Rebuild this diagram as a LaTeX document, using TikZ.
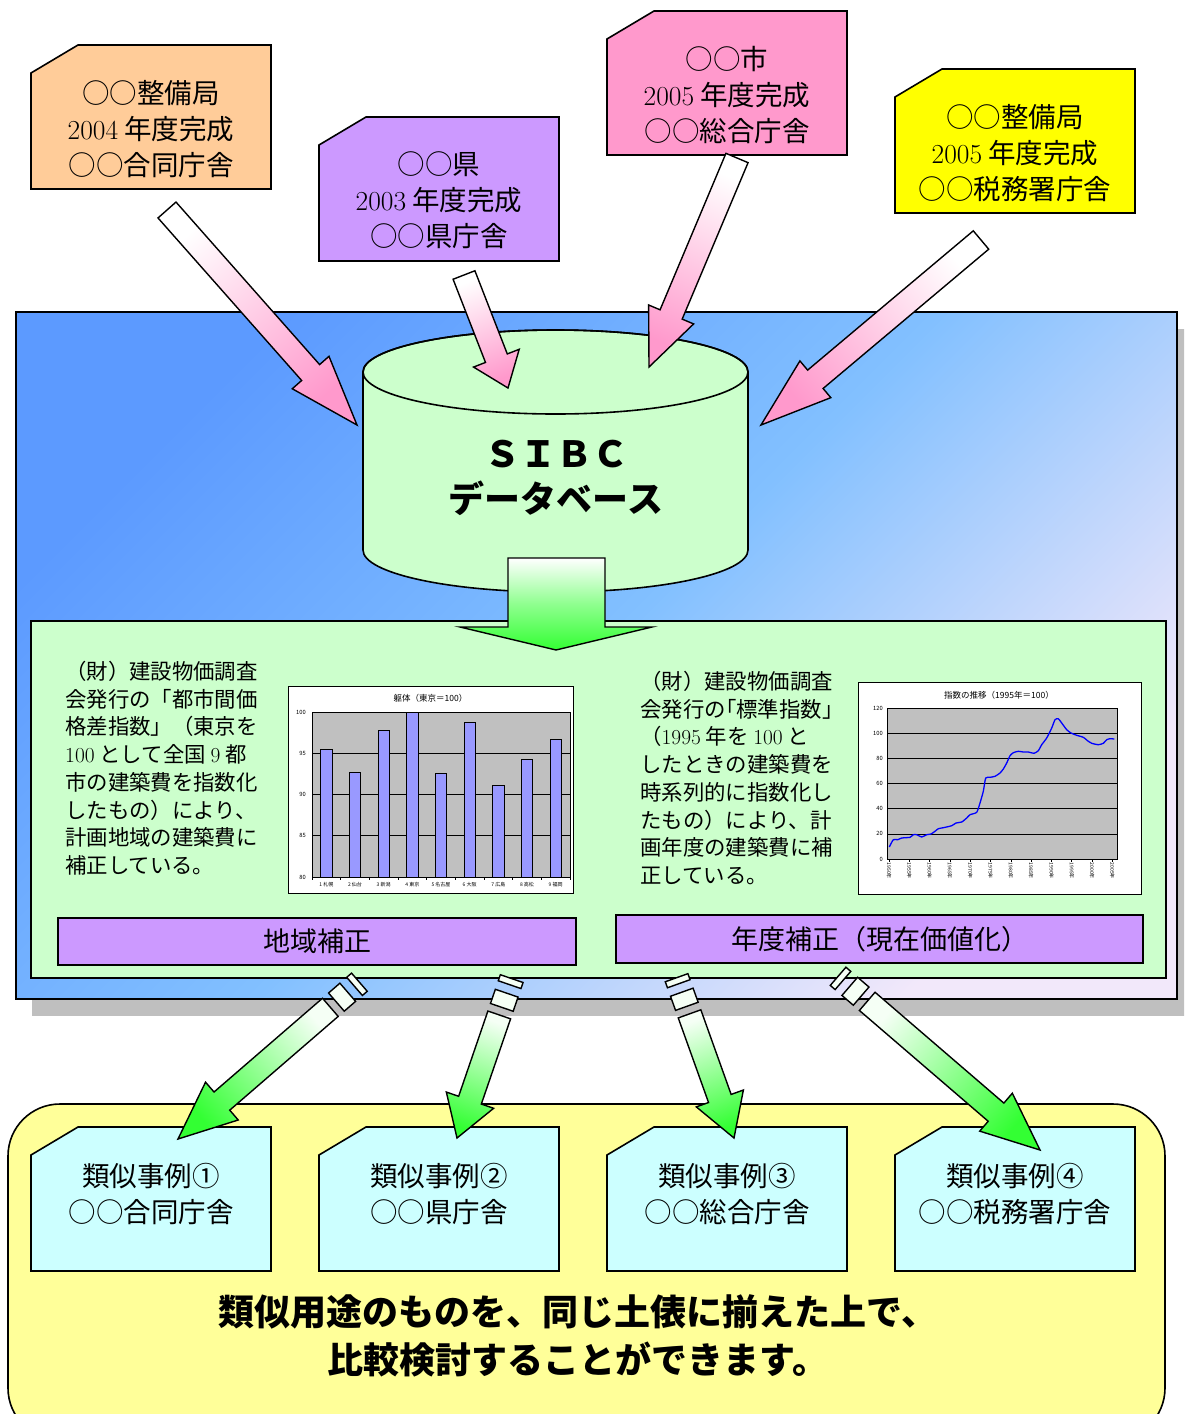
\documentclass[tikz,border=0pt]{standalone}
\usepackage{fontspec}
\newfontfamily\cjk{Noto Sans CJK JP}
\usetikzlibrary{calc}
\definecolor{peach}{RGB}{255,204,153}
\definecolor{lilac}{RGB}{204,153,255}
\definecolor{pinkbox}{RGB}{255,153,204}
\definecolor{yel}{RGB}{255,255,0}
\definecolor{mint}{RGB}{204,255,204}
\definecolor{cyanbox}{RGB}{204,255,255}
\definecolor{lightyel}{RGB}{255,255,153}
\definecolor{bluetl}{RGB}{92,154,255}
\definecolor{bluemid}{RGB}{130,192,255}
\definecolor{lav}{RGB}{242,232,250}
\definecolor{shadowgray}{RGB}{191,191,191}
\definecolor{arrpink}{RGB}{255,153,204}
\definecolor{arrgreen}{RGB}{51,255,51}
\definecolor{stripefill}{RGB}{245,255,245}
\definecolor{chartgray}{RGB}{192,192,192}
\definecolor{barblue}{RGB}{153,153,255}
\definecolor{lineblue}{RGB}{0,0,255}
\newcommand\lm[1]{{\rmfamily #1}}
\newcommand\getdir[2]{\path let \p1=($(#2)-(#1)$) in \pgfextra{\pgfmathsetmacro\batmpa{atan2(\y1,\x1)}\xdef\baang{\batmpa}\pgfmathsetmacro\batmpb{veclen(\x1,\y1)}\xdef\balen{\batmpb}};}
\newcommand\lc[4]{\coordinate (#1) at ($(#2)+(\baang:#3)+(\baang+90:#4)$);}
\newcommand\blkarrow[6]{%
  \getdir{#1}{#2}%
  \pgfmathsetmacro\bashade{\baang+90}%
  \pgfmathsetlengthmacro\babase{\balen-#5}%
  \lc{q1}{#1}{0pt}{#3}\lc{q2}{#1}{\babase}{#3}\lc{q3}{#1}{\babase}{#4}%
  \lc{q4}{#1}{\babase}{-#4}\lc{q5}{#1}{\babase}{-#3}\lc{q6}{#1}{0pt}{-#3}%
  \shadedraw[arrowline, top color=white, bottom color=#6, shading angle=\bashade]
    (q1) -- (q2) -- (q3) -- (#2) -- (q4) -- (q5) -- (q6) -- cycle;}
\newcommand\striparrow[4]{%
  \getdir{#1}{#2}%
  \pgfmathsetmacro\bashade{\baang+90}%
  \pgfmathsetlengthmacro\babase{\balen-#4}%
  \lc{r1}{#1}{0pt}{12pt}\lc{r2}{#1}{6.4pt}{12pt}\lc{r3}{#1}{6.4pt}{-12pt}\lc{r4}{#1}{0pt}{-12pt}%
  \draw[arrowline, fill=stripefill] (r1) -- (r2) -- (r3) -- (r4) -- cycle;
  \lc{r1}{#1}{15.4pt}{12pt}\lc{r2}{#1}{30.4pt}{12pt}\lc{r3}{#1}{30.4pt}{-12pt}\lc{r4}{#1}{15.4pt}{-12pt}%
  \draw[arrowline, fill=stripefill] (r1) -- (r2) -- (r3) -- (r4) -- cycle;
  \lc{q1}{#1}{38.4pt}{12pt}\lc{q2}{#1}{\babase}{12pt}\lc{q3}{#1}{\babase}{#3}%
  \lc{q4}{#1}{\babase}{-#3}\lc{q5}{#1}{\babase}{-12pt}\lc{q6}{#1}{38.4pt}{-12pt}%
  \shadedraw[arrowline, top color=stripefill, bottom color=arrgreen, shading angle=\bashade]
    (q1) -- (q2) -- (q3) -- (#2) -- (q4) -- (q5) -- (q6) -- cycle;}
\newcommand\snipbox[6]{%
  \draw[boxline, fill=#4] (#2,#3+28) -- (#2+47,#3) -- (#2+240,#3) -- (#2+240,#3+144) -- (#2,#3+144) -- cycle;
  \node[boxtext] (#1) at (#2+120,#5) {#6};}
\begin{document}
\begin{tikzpicture}[x=1pt,y=-1pt,
  boxline/.style={draw, line width=1.6pt},
  arrowline/.style={draw, line width=1.4pt, line join=miter},
  boxtext/.style={font=\cjk\fontsize{27.5}{36}\selectfont, align=center, inner sep=0pt},
  bodytext/.style={font=\cjk\fontsize{21.4}{27.7}\selectfont, align=left, inner sep=0pt, anchor=north west},
  barlabel/.style={draw, line width=1.6pt, fill=lilac, inner sep=0pt, font=\cjk\fontsize{27}{30}\selectfont},
  charttitle/.style={font=\cjk\fontsize{8.5}{9}\selectfont, inner sep=0pt},
  ticklab/.style={font=\cjk\fontsize{5.8}{6}\selectfont, inner sep=0pt},
  xlab/.style={font=\cjk\fontsize{5}{5}\selectfont, inner sep=0pt},
  chartframe/.style={draw, fill=white, line width=0.9pt},
  gridl/.style={line width=0.6pt}]
\useasboundingbox (0,0) rectangle (1184,1414);
\clip (0,0) rectangle (1184,1414);
\fill[white] (0,0) rectangle (1184,1414);
% panel with shadow
\fill[shadowgray] (32,329) rectangle (1200,1016);
\shadedraw[top color=bluetl, bottom color=lav, middle color=bluemid, shading angle=45, line width=1.4pt] (16,312) rectangle (1177,999);
\draw[fill=mint, line width=1.6pt] (31,621) rectangle (1166,978);
% database cylinder
\draw[fill=mint, line width=1.6pt] (363,372) -- (363,550) arc[start angle=180, end angle=360, x radius=192.5pt, y radius=42pt] -- (748,372) arc[start angle=0, end angle=180, x radius=192.5pt, y radius=42pt] -- cycle;
\draw[line width=1.6pt] (555.5,372) ellipse [x radius=192.5pt, y radius=42pt];
\node[font=\cjk\bfseries\fontsize{36}{45}\selectfont, align=center, inner sep=0pt] (db) at (556,478) {ＳＩＢＣ\\データベース};
% source boxes
\snipbox{t1}{31}{45}{peach}{129}{○○整備局\\\lm{2004} 年度完成\\○○合同庁舎}
\snipbox{t2}{319}{117}{lilac}{200.5}{○○県\\\lm{2003} 年度完成\\○○県庁舎}
\snipbox{t3}{607}{11}{pinkbox}{95}{○○市\\\lm{2005} 年度完成\\○○総合庁舎}
\snipbox{t4}{895}{69}{yel}{153}{○○整備局\\\lm{2005} 年度完成\\○○税務署庁舎}
% pink arrows
\coordinate (p1s) at (167,210); \coordinate (p1e) at (357,425);
\coordinate (p2s) at (464,275); \coordinate (p2e) at (508,388);
\coordinate (p3s) at (737,158); \coordinate (p3e) at (649,367);
\coordinate (p4s) at (981,240); \coordinate (p4e) at (761,425);
\blkarrow{p1s}{p1e}{12pt}{24.5pt}{70}{arrpink}
\blkarrow{p2s}{p2e}{11.7pt}{24.5pt}{32}{arrpink}
\blkarrow{p3s}{p3e}{12pt}{24.4pt}{57}{arrpink}
\blkarrow{p4s}{p4e}{12pt}{24pt}{71}{arrpink}
% big down arrow
\shadedraw[arrowline, top color=white, bottom color=arrgreen, middle color=arrgreen!55!white] (508,558) -- (605,558) -- (605,627) -- (652,627) -- (556,650) -- (460,627) -- (508,627) -- cycle;
% left text
\node[bodytext] (ltxt) at (65,661) {（財）建設物価調査\\会発行の「都市間価\\格差指数」（東京を\\\lm{100} として全国 \lm{9} 都\\市の建築費を指数化\\したもの）により、\\計画地域の建築費に\\補正している。};
\node[bodytext] (rtxt) at (640,671) {（財）建設物価調査\\会発行の\kern-0.5em「標準指数」\\（\lm{1995} 年を \lm{100} と\\したときの建築費を\\時系列的に指数化し\\たもの）により、計\\画年度の建築費に補\\正している。};
% left chart
\draw[chartframe] (288,686) rectangle (573,893);
\node[charttitle] (lct) at (430.5,698) {躯体（東京＝100）};
\draw[fill=chartgray, line width=0.6pt] (312,712) rectangle (570,877);
\foreach \yy in {753.25,794.5,835.75} \draw[gridl] (312,\yy) -- (570,\yy);
\foreach \lab/\yy in {100/712,95/753.25,90/794.5,85/835.75,80/877} \node[ticklab, anchor=east] (lcy\lab) at (306,\yy) {\lab};
\foreach \v [count=\i from 0] in {95.5,92.7,97.8,100,92.6,98.7,91.1,94.3,96.7} {
  \pgfmathsetmacro\cx{312+28.667*(\i+0.5)}
  \pgfmathsetmacro\ty{877-(\v-80)*8.25}
  \draw[fill=barblue, line width=0.7pt] (\cx-5.75,877) rectangle (\cx+5.75,\ty);
}
\foreach \i in {0,...,9} \draw[line width=0.5pt] ({312+28.667*\i},877) -- ++(0,3);
\foreach \lab [count=\i from 0] in {1 札幌,2 仙台,3 新潟,4 東京,5 名古屋,6 大阪,7 広島,8 高松,9 福岡} \node[xlab] (lcx\i) at ({312+28.667*(\i+0.5)},885) {\lab};
% right chart
\draw[chartframe] (858,682) rectangle (1141,894);
\node[charttitle] (rct) at (999,695) {指数の推移（1995年＝100）};
\draw[fill=chartgray, line width=0.6pt] (887,708) rectangle (1117,859);
\foreach \k in {1,...,5} \draw[gridl] (887,{708+25.167*\k}) -- (1117,{708+25.167*\k});
\foreach \lab [count=\k from 0] in {120,100,80,60,40,20,0} \node[ticklab, anchor=east] (rcy\k) at (883,{708+25.167*\k}) {\lab};
\foreach \yr [count=\k from 0] in {1950,1955,...,2005} {
  \draw[line width=0.5pt] ({889+20.3*\k},859) -- ++(0,2.5);
  \node[xlab, rotate=-90, anchor=west] (rcx\k) at ({889+20.3*\k},862.5) {\yr 年};
}
\draw[lineblue, line width=1.3pt, line join=round] plot[smooth, tension=0.35] coordinates {(889.3,847) (893.3,839.7) (897.7,839.7) (901.7,838) (910,837.3) (913.3,834.7) (916.7,834.7) (921.7,837) (926.7,834.7) (931,834) (935,831.3) (938.3,828.7) (943.3,827.7) (951.7,825.7) (956,823) (961.7,822) (966.7,818) (970,814.7) (976.7,812.3) (980,803) (983.3,791.3) (985.7,778) (990,777.3) (995,776.3) (1000,773) (1003.3,769) (1006.7,763) (1010,755.7) (1013.3,752.7) (1018.3,751.3) (1023.3,752) (1028.3,752) (1034,753.3) (1038.3,750.7) (1041.7,744.7) (1046.7,738) (1051.7,728) (1055,719.7) (1058.3,718.7) (1061.7,723) (1066.7,729.7) (1071,733) (1076.7,735.3) (1083.3,737.3) (1088.3,741.3) (1091.7,743.3) (1098.3,744.7) (1103.3,743.3) (1106.7,739.7) (1110,738.7) (1114.3,739)};
% correction labels
\node[barlabel, minimum width=518pt, minimum height=47pt] (reg) at (317,941.5) {地域補正};
\node[barlabel, minimum width=527pt, minimum height=48pt] (yr) at (879.5,939) {年度補正（現在価値化）};
% bottom area
\draw[fill=lightyel, line width=1.6pt, rounded corners=52pt] (8,1104) rectangle (1165,1440);
\snipbox{b1}{31}{1127}{cyanbox}{1194}{類似事例①\\○○合同庁舎}
\snipbox{b2}{319}{1127}{cyanbox}{1194}{類似事例②\\○○県庁舎}
\snipbox{b3}{607}{1127}{cyanbox}{1194}{類似事例③\\○○総合庁舎}
\snipbox{b4}{895}{1127}{cyanbox}{1194}{類似事例④\\○○税務署庁舎}
% green striped arrows
\coordinate (g1s) at (359.4,982.2); \coordinate (g1e) at (178,1139);
\coordinate (g2s) at (511.7,978.6); \coordinate (g2e) at (457,1138);
\coordinate (g3s) at (676.6,977.7); \coordinate (g3e) at (734,1138);
\coordinate (g4s) at (838.1,976.3); \coordinate (g4e) at (1040,1150);
\striparrow{g1s}{g1e}{25pt}{58}
\striparrow{g2s}{g2e}{25pt}{40}
\striparrow{g3s}{g3e}{25pt}{42}
\striparrow{g4s}{g4e}{25pt}{58}
\node[font=\cjk\bfseries\fontsize{36}{48}\selectfont, align=center, inner sep=0pt] (msg) at (578,1336) {類似用途のものを、同じ土俵に揃えた上で、\\比較検討することができます。};
\end{tikzpicture}
\end{document}
